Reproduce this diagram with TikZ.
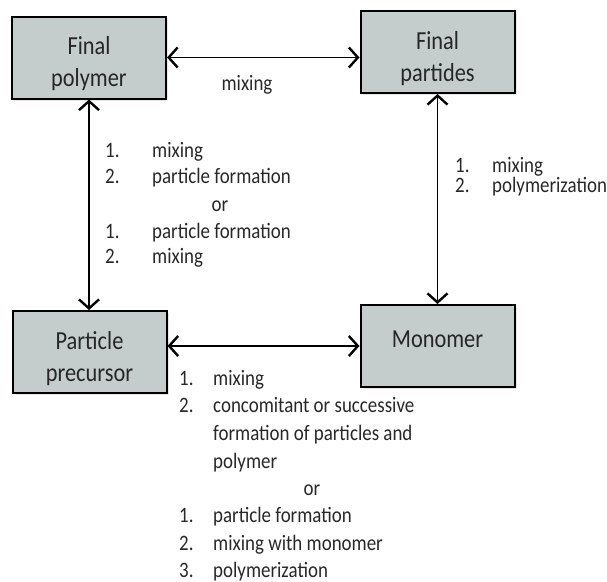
\documentclass[tikz,border=0pt]{standalone}
\usepackage{fontspec}
\setmainfont{Carlito}[FakeStretch=0.86]
\usetikzlibrary{arrows.meta,shadows}
\definecolor{boxfill}{RGB}{196,204,204}
\definecolor{txt}{RGB}{40,40,40}
\newcommand{\boxtext}[3]{\raisebox{#1}[0pt][0pt]{\begin{tabular}{@{}c@{}}#2\\#3\end{tabular}}}
\begin{document}
\begin{tikzpicture}[x=1pt,y=-1pt,
  box/.style={draw=black, line width=2pt, fill=boxfill, minimum width=154pt, minimum height=82pt,
    align=center, inner sep=0pt, font=\fontsize{26}{32}\selectfont, text=black!85,
    drop shadow={opacity=0.2, shadow xshift=2pt, shadow yshift=-2pt}},
  tip/.tip={Straight Barb[length=9pt,width=20pt,line width=2.4pt]},
  conn/.style={line width=1.5pt, tip-tip},
  lbl/.style={font=\fontsize{22}{27}\selectfont, anchor=base west, inner sep=0pt, text=txt},
  orlbl/.style={font=\fontsize{22}{27}\selectfont, anchor=base, inner sep=0pt, text=txt}]
\useasboundingbox (0,0) rectangle (607,581);

% boxes
\node[box] (fpoly) at (89,57.5) {\boxtext{-13pt}{Final}{polymer}};
\node[box] (fpart) at (437.5,52) {\boxtext{-13.5pt}{Final}{partides}};
\node[box] (prec) at (89.5,352) {\boxtext{-13pt}{Particle}{precursor}};
\node[box] (mono) at (437.5,346) {\raisebox{-1.5pt}[0pt][0pt]{Monomer}};

% connectors
\draw[conn] (fpoly.east) -- (fpoly.east -| fpart.west);
\draw[conn] (fpoly.south) -- (fpoly.south |- prec.north);
\draw[conn] (fpart.south) -- (fpart.south |- mono.north);
\draw[conn] (prec.east |- mono.west) -- (mono.west);

% top label
\node[orlbl] (tmix) at (247,90) {mixing};

% left labels
\node[lbl] (l1n) at (105,157) {1.};
\node[lbl] (l1t) at (152,157) {mixing};
\node[lbl] (l2n) at (105,183.5) {2.};
\node[lbl] (l2t) at (152,183.5) {particle formation};
\node[orlbl] (lor) at (220,211) {or};
\node[lbl] (l3n) at (105,238) {1.};
\node[lbl] (l3t) at (152,238) {particle formation};
\node[lbl] (l4n) at (105,263) {2.};
\node[lbl] (l4t) at (152,263) {mixing};

% right labels
\node[lbl] (r1n) at (455,172.5) {1.};
\node[lbl] (r1t) at (492,172.5) {mixing};
\node[lbl] (r2n) at (455,192.5) {2.};
\node[lbl] (r2t) at (492,192.5) {polymerization};

% bottom labels
\node[lbl] (b1n) at (179,385) {1.};
\node[lbl] (b1t) at (213,385) {mixing};
\node[lbl] (b2n) at (179,412) {2.};
\node[lbl] (b2t) at (213,412) {concomitant or successive};
\node[lbl] (b3t) at (213,440) {formation of particles and};
\node[lbl] (b4t) at (213,468) {polymer};
\node[orlbl] (bor) at (312,495) {or};
\node[lbl] (b5n) at (179,522) {1.};
\node[lbl] (b5t) at (213,522) {particle formation};
\node[lbl] (b6n) at (179,550) {2.};
\node[lbl] (b6t) at (213,550) {mixing with monomer};
\node[lbl] (b7n) at (179,577) {3.};
\node[lbl] (b7t) at (213,577) {polymerization};
\end{tikzpicture}
\end{document}
